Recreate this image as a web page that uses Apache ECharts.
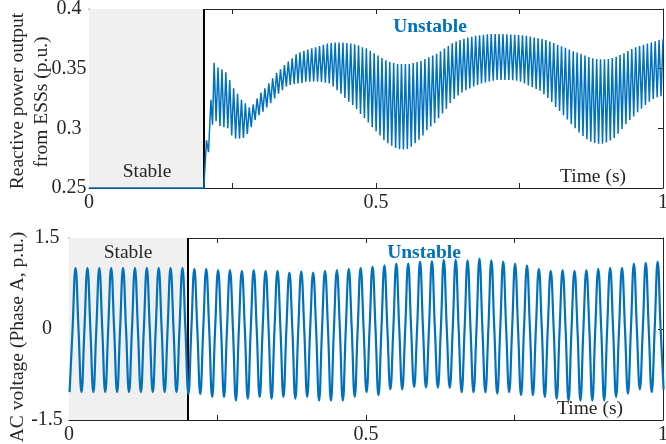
<!DOCTYPE html>
<html><head><meta charset="utf-8">
<script src="https://cdn.jsdelivr.net/npm/echarts@6/dist/echarts.min.js"></script>
<style>html,body{margin:0;padding:0;background:#fff}#c{width:666px;height:444px}</style>
</head><body><div id="c"></div>
<script>
// ---- Top panel: reactive power output from ESSs (p.u.) ----
const qStartT = [0, 0.2, 0.2024, 0.2047, 0.2082, 0.2124, 0.2152];
const qStartV = [0.25, 0.25, 0.25, 0.290, 0.280, 0.324, 0.303];
const qT0 = 0.218, qDt = 0.0068; // first oscillation peak time, oscillation period
const qUpper = [0.355,0.351,0.3495,0.347,0.3405,0.3335,0.329,0.324,0.321,0.3176,
  0.320,0.325,0.330,0.3335,0.3377,0.342,0.3466,0.3495,0.353,0.356,
  0.3587,0.362,0.3637,0.365,0.366,0.367,0.368,0.369,0.370,0.371,
  0.3715,0.372,0.372,0.372,0.3715,0.371,0.3705,0.3695,0.368,0.367,
  0.365,0.363,0.361,0.359,0.357,0.3555,0.3548,0.354,0.3538,0.3538,
  0.354,0.3548,0.3555,0.3565,0.358,0.3595,0.361,0.3625,0.3645,0.3668,
  0.369,0.3712,0.3728,0.374,0.375,0.376,0.3768,0.3775,0.378,0.3785,
  0.3788,0.379,0.379,0.379,0.379,0.3788,0.3786,0.3784,0.3782,0.378,
  0.3775,0.377,0.376,0.3755,0.3748,0.374,0.3728,0.3715,0.370,0.3688,
  0.3675,0.366,0.3645,0.3635,0.3625,0.361,0.3598,0.3588,0.358,0.3578,
  0.3578,0.358,0.359,0.360,0.3615,0.363,0.3648,0.3665,0.368,0.369,
  0.370,0.371,0.372,0.373,0.374,0.3746];
const qLower = [0.306,0.302,0.301,0.300,0.294,0.2916,0.2916,0.292,0.2953,0.3009,
  0.307,0.311,0.314,0.3176,0.321,0.325,0.329,0.332,0.335,0.3363,
  0.3372,0.3377,0.338,0.339,0.339,0.3392,0.339,0.3388,0.3383,0.3375,
  0.335,0.332,0.329,0.3255,0.3223,0.3195,0.316,0.312,0.3085,0.305,
  0.301,0.2975,0.294,0.290,0.2875,0.2855,0.2835,0.2824,0.2822,0.2826,
  0.2846,0.2875,0.2905,0.294,0.2985,0.3015,0.3045,0.3085,0.3125,0.3165,
  0.3212,0.3245,0.3275,0.330,0.332,0.3335,0.335,0.3363,0.3375,0.3385,
  0.3393,0.340,0.3405,0.3405,0.3405,0.3405,0.3403,0.3398,0.339,0.3375,
  0.336,0.3345,0.333,0.3315,0.3285,0.3255,0.322,0.318,0.3145,0.311,
  0.3075,0.3035,0.300,0.2965,0.2935,0.2908,0.2888,0.2878,0.2872,0.2872,
  0.2882,0.2898,0.292,0.2955,0.2995,0.3035,0.307,0.310,0.3135,0.3165,
  0.3195,0.3222,0.3245,0.326,0.327];

// ---- Bottom panel: AC voltage (Phase A, p.u.), 50 Hz cycles ----
const vT0 = 0.001, vPeriod = 0.02; // time of first trough, cycle length
const vPeak = [1.01,1.01,1.01,1.01,1.01,1.01,1.01,1.01,1.01,1.01,
  0.99,0.99,0.97,0.97,0.96,0.97,0.96,0.96,0.93,0.95,
  0.93,0.96,0.97,0.99,1.01,1.03,1.05,1.08,1.08,1.11,
  1.12,1.14,1.14,1.13,1.16,1.13,1.11,1.08,1.05,0.99,
  0.96,0.97,0.96,0.97,0.99,1.01,1.01,1.08,1.09,1.11];
const vTrough = [-1.04,-1.04,-1.04,-1.04,-1.04,-1.04,-1.04,-1.04,-1.04,-1.04,
  -1.07,-1.07,-1.12,-1.12,-1.18,-1.15,-1.12,-1.15,-1.12,-1.15,
  -1.12,-1.18,-1.18,-1.18,-1.12,-1.04,-1.09,-0.995,-0.995,-0.955,
  -0.967,-0.967,-0.967,-1.04,-1.04,-1.04,-1.066,-1.04,-1.09,-1.09,
  -1.12,-1.15,-1.18,-1.18,-1.18,-1.18,-1.12,-1.066,-0.995,-1.04,-1.0];
const xTickLabels = ['0', '0.5', '1'];

const FONT = '"Times New Roman", "Liberation Serif", serif';
const AX = '#262626', BLUE = '#0072BD';

const qData = [];
qStartT.forEach((t, i) => qData.push([t, qStartV[i]]));
qUpper.forEach((v, k) => {
  const t = qT0 + k * qDt;
  qData.push([t, v]);
  if (k < qLower.length) qData.push([t + qDt / 2, qLower[k]]);
});

const vData = [];
vTrough.forEach((tr, k) => {
  const t = vT0 + k * vPeriod;
  vData.push([t, tr]);
  if (k < vPeak.length) {
    vData.push([t + vPeriod / 4, 0]);
    vData.push([t + vPeriod / 2, vPeak[k]]);
    vData.push([t + 3 * vPeriod / 4, 0]);
  }
});

function xAx(grid, pos, showLabel) {
  return {
    type: 'value', gridIndex: grid, position: pos, min: 0, max: 1, interval: 0.25,
    axisLine: { show: true, onZero: false, lineStyle: { color: AX, width: 1 } },
    axisTick: { show: true, inside: true, length: 5, lineStyle: { color: AX } },
    splitLine: { show: false },
    axisLabel: {
      show: showLabel, margin: 5, color: AX, fontFamily: FONT, fontSize: 20,
      formatter: v => { const s = String(+v.toFixed(2)); return xTickLabels.includes(s) ? s : ''; }
    }
  };
}
function yAx(grid, pos, min, max, iv, showLabel, margin) {
  return {
    type: 'value', gridIndex: grid, position: pos, min: min, max: max, interval: iv,
    axisLine: { show: true, onZero: false, lineStyle: { color: AX, width: 1 } },
    axisTick: { show: true, inside: true, length: 5, lineStyle: { color: AX } },
    splitLine: { show: false },
    axisLabel: {
      show: showLabel, margin: margin, align: 'center', color: AX, fontFamily: FONT, fontSize: 20,
      padding: [5, 0, 0, 0],
      formatter: v => String(+v.toFixed(2))
    }
  };
}

function txt(x, y, text, opts) {
  return {
    type: 'text', x: x, y: y, z: 100,
    style: Object.assign({
      text: text, font: '19.5px ' + FONT, fill: AX,
      align: 'center', verticalAlign: 'middle', textAlign: 'center', textVerticalAlign: 'middle'
    }, opts || {})
  };
}
function vtxt(x, y, text) {
  const t = txt(x, y, text);
  t.rotation = Math.PI / 2;
  return t;
}

const shade = (xi, yi) => ({
  type: 'line', xAxisIndex: xi, yAxisIndex: yi, data: [], z: 1, silent: true,
  markArea: { silent: true, itemStyle: { color: '#f0f0f0' }, data: [[{ xAxis: 0 }, { xAxis: 0.2 }]] },
  markLine: { silent: true, symbol: 'none', label: { show: false },
    lineStyle: { color: '#000', width: 2, type: 'solid' }, data: [{ xAxis: 0.2 }] }
});

const option = {
  animation: false,
  backgroundColor: '#fff',
  grid: [
    { left: 89, right: 3, top: 9, height: 179, containLabel: false, outerBoundsMode: 'none' },
    { left: 69, right: 3, top: 238, height: 182, containLabel: false, outerBoundsMode: 'none' }
  ],
  xAxis: [xAx(0, 'bottom', true), xAx(0, 'top', false), xAx(1, 'bottom', true), xAx(1, 'top', false)],
  yAxis: [
    yAx(0, 'left', 0.25, 0.4, 0.05, true, 20), yAx(0, 'right', 0.25, 0.4, 0.05, false, 8),
    yAx(1, 'left', -1.5, 1.5, 1.5, true, 22), yAx(1, 'right', -1.5, 1.5, 1.5, false, 8)
  ],
  series: [
    shade(0, 0),
    { type: 'line', xAxisIndex: 0, yAxisIndex: 0, data: qData, z: 5, symbol: 'none',
      lineStyle: { color: BLUE, width: 1.5 } },
    shade(2, 2),
    { type: 'line', xAxisIndex: 2, yAxisIndex: 2, data: vData, z: 5, symbol: 'none',
      smooth: 0.45, lineStyle: { color: BLUE, width: 2.2 } }
  ],
  graphic: [
    vtxt(18, 101, 'Reactive power output'),
    vtxt(42, 102, 'from ESSs (p.u.)'),
    vtxt(18, 337, 'AC voltage (Phase A, p.u.)'),
    txt(147, 172, 'Stable'),
    txt(430, 27, 'Unstable', { font: 'bold 19.5px ' + FONT, fill: BLUE }),
    txt(593, 177, 'Time (s)'),
    txt(128, 253, 'Stable'),
    txt(424, 253, 'Unstable', { font: 'bold 19.5px ' + FONT, fill: BLUE }),
    txt(590, 409, 'Time (s)')
  ]
};
echarts.init(document.getElementById('c'), null, { renderer: 'canvas' }).setOption(option);
</script></body></html>
